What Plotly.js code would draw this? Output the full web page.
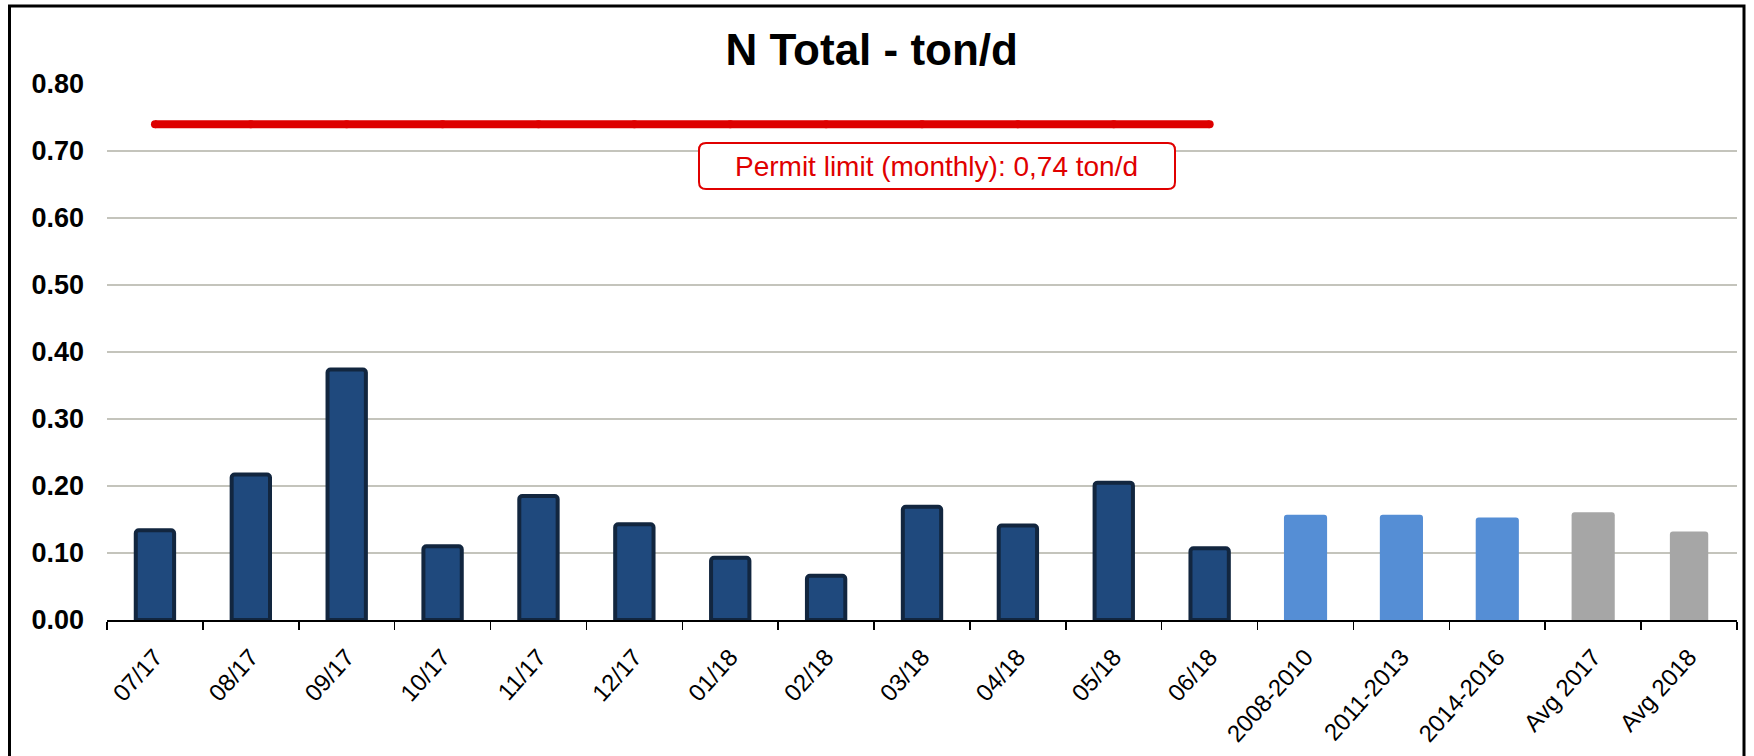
<!DOCTYPE html>
<html>
<head>
<meta charset="utf-8">
<script src="https://cdn.plot.ly/plotly-3.0.1.min.js"></script>
<style>
  html, body { margin: 0; padding: 0; background: #ffffff; }
  #chart { width: 1754px; height: 756px; }
</style>
</head>
<body>
<div id="chart"></div>
<script>
// ---- data ----
const monthLabels = ["07/17", "08/17", "09/17", "10/17", "11/17", "12/17",
                     "01/18", "02/18", "03/18", "04/18", "05/18", "06/18"];
const monthValues = [0.134, 0.217, 0.374, 0.110, 0.185, 0.143,
                     0.093, 0.066, 0.169, 0.141, 0.205, 0.107];
const periodLabels = ["2008-2010", "2011-2013", "2014-2016"];
const periodValues = [0.157, 0.157, 0.153];
const avgLabels = ["Avg 2017", "Avg 2018"];
const avgValues = [0.161, 0.132];
const permitLimit = 0.74;
const permitText = "Permit limit (monthly): 0,74 ton/d";
const chartTitle = "N Total - ton/d";
const yTickValues = [0, 0.1, 0.2, 0.3, 0.4, 0.5, 0.6, 0.7, 0.8];

// ---- geometry helpers (pixel -> paper) ----
const W = 1754, H = 756;
const M = { l: 107, r: 17, t: 84, b: 136 };
const PW = W - M.l - M.r, PH = H - M.t - M.b;
const px = v => (v - M.l) / PW;
const py = v => (H - M.b - v) / PH;

const allLabels = monthLabels.concat(periodLabels, avgLabels);

const traces = [
  {
    type: "bar", x: monthLabels, y: monthValues, width: 0.40,
    marker: { color: "#1F497D", line: { color: "#12263F", width: 4 }, cornerradius: 3 },
    hoverinfo: "x+y", showlegend: false
  },
  {
    type: "bar", x: periodLabels, y: periodValues, width: 0.45,
    marker: { color: "#558ED5", line: { width: 0 }, cornerradius: 3 },
    hoverinfo: "x+y", showlegend: false
  },
  {
    type: "bar", x: avgLabels, y: avgValues, width: [0.45, 0.40],
    marker: { color: "#A6A6A6", line: { width: 0 }, cornerradius: 3 },
    hoverinfo: "x+y", showlegend: false
  },
  {
    type: "scatter", mode: "lines+markers", x: monthLabels,
    y: monthLabels.map(() => permitLimit),
    line: { color: "#DD0000", width: 8 },
    marker: { color: "#DD0000", size: 8 },
    hoverinfo: "y", showlegend: false
  }
];

// rounded box around permit text
const bx0 = px(699), bx1 = px(1175), byT = py(143), byB = py(189);
const rx = 7 / PW, ry = 7 / PH;
const boxPath =
  `M ${bx0 + rx},${byT} L ${bx1 - rx},${byT} Q ${bx1},${byT} ${bx1},${byT - ry} ` +
  `L ${bx1},${byB + ry} Q ${bx1},${byB} ${bx1 - rx},${byB} ` +
  `L ${bx0 + rx},${byB} Q ${bx0},${byB} ${bx0},${byB + ry} ` +
  `L ${bx0},${byT - ry} Q ${bx0},${byT} ${bx0 + rx},${byT} Z`;

const layout = {
  width: W, height: H,
  margin: M,
  paper_bgcolor: "#ffffff", plot_bgcolor: "#ffffff",
  barmode: "overlay",
  showlegend: false,
  font: { family: "Liberation Sans, Arial, sans-serif", color: "#000000" },
  title: {
    text: "<b>" + chartTitle + "</b>",
    font: { size: 44, family: "Liberation Sans, Arial, sans-serif", color: "#000000" },
    xref: "container", x: 0.497, xanchor: "center",
    yref: "container", y: 1 - 50 / H, yanchor: "middle"
  },
  xaxis: {
    type: "category",
    categoryorder: "array", categoryarray: allLabels,
    range: [-0.5, allLabels.length - 0.5],
    tickangle: -48,
    tickfont: { size: 24, color: "#000000" },
    ticklabelstandoff: 12,
    ticks: "outside", ticklen: 8, tickwidth: 1.5, tickcolor: "#000000",
    tickson: "boundaries",
    showline: true, linecolor: "#000000", linewidth: 1.5,
    showgrid: false, zeroline: false,
    fixedrange: true
  },
  yaxis: {
    range: [0, 0.8],
    tickmode: "array", tickvals: yTickValues,
    tickformat: ".2f",
    tickfont: { size: 27, color: "#000000", weight: "bold" },
    ticklabelstandoff: 22,
    showgrid: true, gridcolor: "#C4C4BC", gridwidth: 1.5,
    showline: false, zeroline: false, ticks: "",
    fixedrange: true
  },
  shapes: [
    {
      type: "path", xref: "paper", yref: "paper", path: boxPath,
      line: { color: "#E00000", width: 2 }, fillcolor: "#ffffff", layer: "above"
    },
    {
      type: "rect", xref: "paper", yref: "paper",
      x0: px(9.5), x1: px(1744), y0: py(762), y1: py(6),
      line: { color: "#000000", width: 3 }, fillcolor: "rgba(0,0,0,0)", layer: "above"
    }
  ],
  annotations: [
    {
      xref: "paper", yref: "paper",
      x: px(937), y: py(166), xanchor: "center", yanchor: "middle",
      text: permitText, showarrow: false,
      font: { size: 28, color: "#E00000", family: "Liberation Sans, Arial, sans-serif" }
    }
  ]
};

Plotly.newPlot("chart", traces, layout, { staticPlot: true, displayModeBar: false });
</script>
</body>
</html>
